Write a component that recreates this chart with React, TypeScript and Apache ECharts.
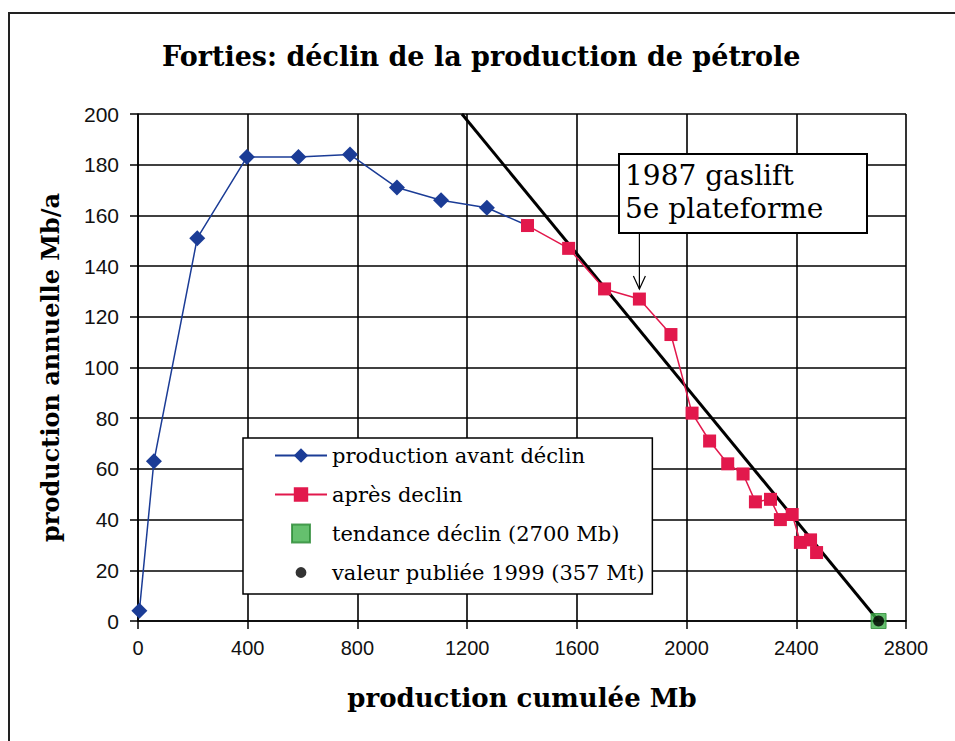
import React, { useEffect, useRef } from "react";
import * as echarts from "echarts";

// Data
const blueX = [5, 58, 216, 397, 585, 773, 944, 1105, 1272];
const blueY = [4, 63, 151, 183, 183, 184, 171, 166, 163];
const redX = [1420, 1570, 1701, 1828, 1943, 2020, 2084, 2150, 2206, 2251, 2306, 2342, 2385, 2415, 2452, 2474];
const redY = [156, 147, 131, 127, 113, 82, 71, 62, 58, 47, 48, 40, 42, 31, 32, 27];
const trendX = [1181, 2700];
const trendY = [200, 0];
const trendPoint = [2700, 0];
const publishedPoint = [2700, 0];
const annotatedPoint = [1828, 127];

const seriesNames = [
  "production avant déclin",
  "après declin",
  "tendance déclin (2700 Mb)",
  "valeur publiée 1999 (357 Mt)",
];
const titleText = "Forties: déclin de la production de pétrole";
const xName = "production cumulée Mb";
const yName = "production annuelle Mb/a";
const annotationLines = ["1987 gaslift", "5e plateforme"];

// legend icons (square box, keep aspect)
const squareIcon = "path://M0,0L20,0L20,20L0,20Z";
const dotIcon = "path://M0,0M20,20M4,10A6,6 0 1 1 16,10A6,6 0 1 1 4,10Z";

export default function App() {
  const ref = useRef<HTMLDivElement>(null);
  useEffect(() => {
    document.body.style.margin = "0";
    const chart = echarts.init(ref.current!, null, { renderer: "svg" });
    const blueData: any[] = blueX.map((x, i) => [x, blueY[i]]);
    blueData.push({ value: [redX[0], redY[0]], symbol: "none" });
    const redData = redX.map((x, i) => [x, redY[i]]);
    const trendData = trendX.map((x, i) => [x, trendY[i]]);
    const serif = "'DejaVu Serif', 'Liberation Serif', serif";
    chart.setOption({
      animation: false,
      backgroundColor: "#fff",
      title: {
        text: titleText,
        left: 157,
        top: 38,
        textStyle: { fontFamily: serif, fontWeight: "bold", fontSize: 27, color: "#000" },
      },
      grid: { left: 138, right: 49, top: 114, bottom: 120, containLabel: false },
      xAxis: {
        type: "value",
        min: 0,
        max: 2800,
        interval: 400,
        name: xName,
        nameLocation: "middle",
        nameGap: 64,
        nameTextStyle: { fontFamily: serif, fontWeight: "bold", fontSize: 26, color: "#000" },
        axisLine: { show: true, onZero: false, lineStyle: { color: "#000", width: 1.5 } },
        axisTick: { show: true, inside: false, length: 8, lineStyle: { color: "#000", width: 1.5 } },
        axisLabel: {
          margin: 17,
          fontFamily: "Liberation Sans",
          fontSize: 20,
          color: "#111",
          formatter: (v: number) => String(v),
        },
        splitLine: { show: true, lineStyle: { color: "#000", width: 1.6 } },
      },
      yAxis: {
        type: "value",
        min: 0,
        max: 200,
        interval: 20,
        name: yName,
        nameLocation: "middle",
        nameRotate: 90,
        nameGap: 76,
        nameTextStyle: { fontFamily: serif, fontWeight: "bold", fontSize: 24, color: "#000" },
        axisLine: { show: true, onZero: false, lineStyle: { color: "#000", width: 1.5 } },
        axisTick: { show: true, inside: false, length: 8, lineStyle: { color: "#000", width: 1.5 } },
        axisLabel: {
          margin: 19,
          fontFamily: "Liberation Sans",
          fontSize: 21,
          color: "#111",
          formatter: (v: number) => String(v),
        },
        splitLine: { show: true, lineStyle: { color: "#000", width: 1.6 } },
      },
      legend: {
        orient: "vertical",
        left: 243,
        top: 438,
        backgroundColor: "#fff",
        borderColor: "#000",
        borderWidth: 1.5,
        padding: [7, 8, 11, 31],
        itemWidth: 52,
        itemHeight: 18,
        itemGap: 18,
        symbolKeepAspect: true,
        textStyle: { fontFamily: serif, fontSize: 21, color: "#000" },
        data: [
          { name: seriesNames[0] },
          { name: seriesNames[1] },
          { name: seriesNames[2], icon: squareIcon },
          { name: seriesNames[3], icon: dotIcon },
        ],
        z: 10,
      },
      series: [
        {
          name: "trend",
          type: "line",
          data: trendData,
          symbol: "none",
          lineStyle: { color: "#000", width: 3 },
          z: 3,
        },
        {
          name: seriesNames[0],
          type: "line",
          data: blueData,
          symbol: "diamond",
          symbolSize: 16,
          itemStyle: { color: "#1b3c96" },
          lineStyle: { color: "#1b3c96", width: 1.5 },
          z: 4,
        },
        {
          name: seriesNames[1],
          type: "line",
          data: redData,
          symbol: "rect",
          symbolSize: 13,
          itemStyle: { color: "#e2184c" },
          lineStyle: { color: "#e2184c", width: 1.5 },
          z: 5,
        },
        {
          name: seriesNames[2],
          type: "scatter",
          data: [trendPoint],
          symbol: "rect",
          symbolSize: 15,
          itemStyle: { color: "#3fb04a", borderColor: "#2a8a35", borderWidth: 1 },
          z: 6,
        },
        {
          name: seriesNames[3],
          type: "scatter",
          data: [publishedPoint],
          symbol: "circle",
          symbolSize: 11,
          itemStyle: { color: "#000" },
          z: 7,
        },
      ],
    });
    const tip = chart.convertToPixel({ gridIndex: 0 }, annotatedPoint) as number[];
    const tx = tip[0];
    const ty = tip[1] - 10;
    const boxLeft = 619;
    const boxTop = 154;
    const boxW = 248;
    const boxH = 79;
    chart.setOption({
      graphic: [
        {
          type: "rect",
          shape: { x: 9, y: 13, width: 980, height: 760 },
          style: { fill: "none", stroke: "#222", lineWidth: 2 },
          silent: true,
          z: 1,
        },
        {
          type: "rect",
          shape: { x: boxLeft, y: boxTop, width: boxW, height: boxH },
          style: { fill: "#fff", stroke: "#000", lineWidth: 2 },
          z: 20,
        },
        {
          type: "text",
          x: boxLeft + 6,
          y: boxTop + 5,
          style: {
            text: annotationLines.join("\n"),
            fontFamily: serif,
            fontSize: 28,
            lineHeight: 33,
            fill: "#000",
          },
          z: 21,
        },
        {
          type: "line",
          shape: { x1: tx, y1: boxTop + boxH, x2: tx, y2: ty },
          style: { stroke: "#000", lineWidth: 1.2 },
          z: 20,
        },
        {
          type: "polyline",
          shape: { points: [[tx - 6, ty - 13], [tx, ty], [tx + 6, ty - 13]] },
          style: { stroke: "#000", lineWidth: 1.2, fill: "none" },
          z: 20,
        },
      ],
    });
    return () => chart.dispose();
  }, []);
  return <div ref={ref} style={{ width: 955, height: 741 }} />;
}
